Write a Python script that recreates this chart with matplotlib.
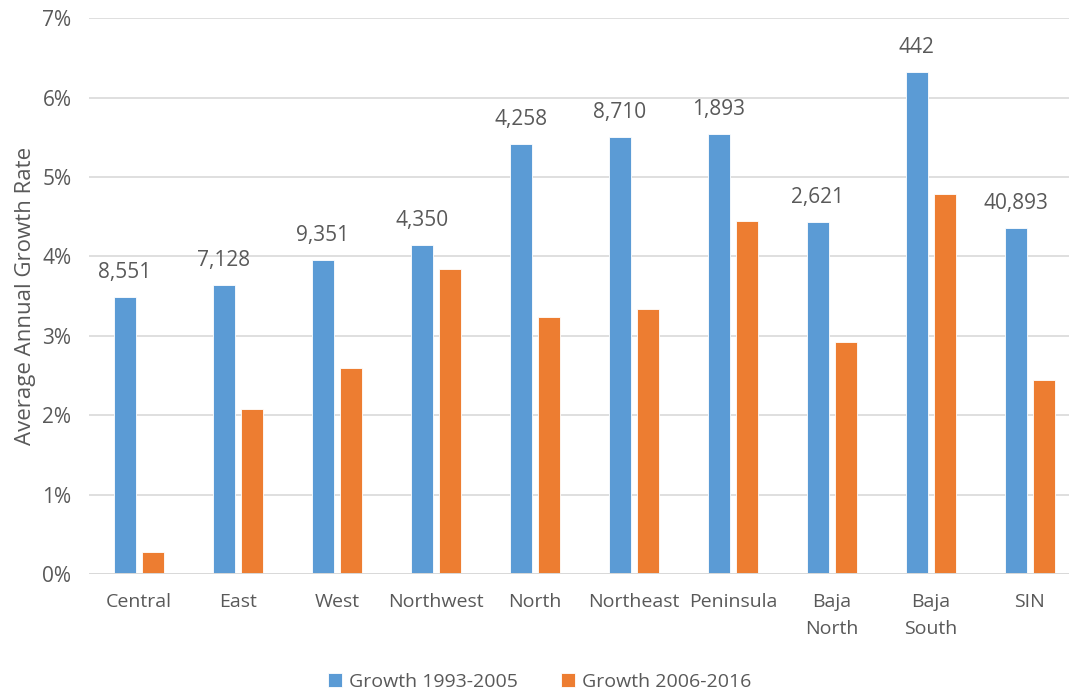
import numpy as np
import matplotlib.pyplot as plt

regions = ['Central', 'East', 'West', 'Northwest', 'North', 'Northeast',
           'Peninsula', 'Baja\nNorth', 'Baja\nSouth', 'SIN']
growth_1993_2005 = [3.49, 3.64, 3.95, 4.14, 5.42, 5.50, 5.54, 4.43, 6.32, 4.36]
growth_2006_2016 = [0.28, 2.08, 2.60, 3.84, 3.24, 3.34, 4.44, 2.92, 4.79, 2.44]
counts = ['8,551', '7,128', '9,351', '4,350', '4,258', '8,710', '1,893',
          '2,621', '442', '40,893']

blue = '#5B9BD5'
orange = '#ED7D31'
txt = '#595959'
plain = ['Open Sans', 'DejaVu Sans']

fig = plt.figure(figsize=(10.69, 6.94), dpi=100)
ax = fig.add_axes([0.0837, 0.1729, 0.926, 0.801])

x = np.arange(len(regions))
w = 0.222
b1 = ax.bar(x - 0.143, growth_1993_2005, w, color=blue, edgecolor='white',
            linewidth=0.6, label='Growth 1993-2005', zorder=3)
b2 = ax.bar(x + 0.143, growth_2006_2016, w, color=orange, edgecolor='white',
            linewidth=0.6, label='Growth 2006-2016', zorder=3)

# counts above the first-period bars
for xi, v, c in zip(x, growth_1993_2005, counts):
    ax.annotate(c, (xi - 0.143, v), xytext=(0, 10), textcoords='offset points',
                ha='center', va='bottom', fontsize=15, color=txt, family=plain)

ax.set_xlim(-0.5, len(regions) - 0.5)
ax.set_ylim(0, 7)
ax.set_yticks(range(0, 8))
ax.set_yticklabels([f'{i}%' for i in range(0, 8)], family=plain,
                   fontsize=15, color=txt)
ax.set_xticks(x)
ax.set_xticklabels(regions, family=plain, fontsize=14, color=txt,
                   linespacing=1.6, va='top')
ax.tick_params(axis='both', length=0)
ax.tick_params(axis='x', pad=14)
ax.tick_params(axis='y', pad=13)
ax.grid(axis='y', color='#D9D9D9', linewidth=1.2, zorder=0)
for s in ax.spines.values():
    s.set_visible(False)
ax.axhline(0, color='#D9D9D9', linewidth=1.4, zorder=4)

ax.set_ylabel('Average Annual Growth Rate', family=plain, fontsize=16,
              color=txt)
ax.yaxis.set_label_coords(-0.054, 0.5)

leg = fig.legend(handles=[b1, b2], loc='center', bbox_to_anchor=(0.505, 0.018),
                 ncol=2, frameon=False, handlelength=0.7, handleheight=0.7,
                 handletextpad=0.4, columnspacing=2.2,
                 prop={'family': plain, 'size': 14})
for t in leg.get_texts():
    t.set_color(txt)

fig.savefig('out.png', dpi=100)
